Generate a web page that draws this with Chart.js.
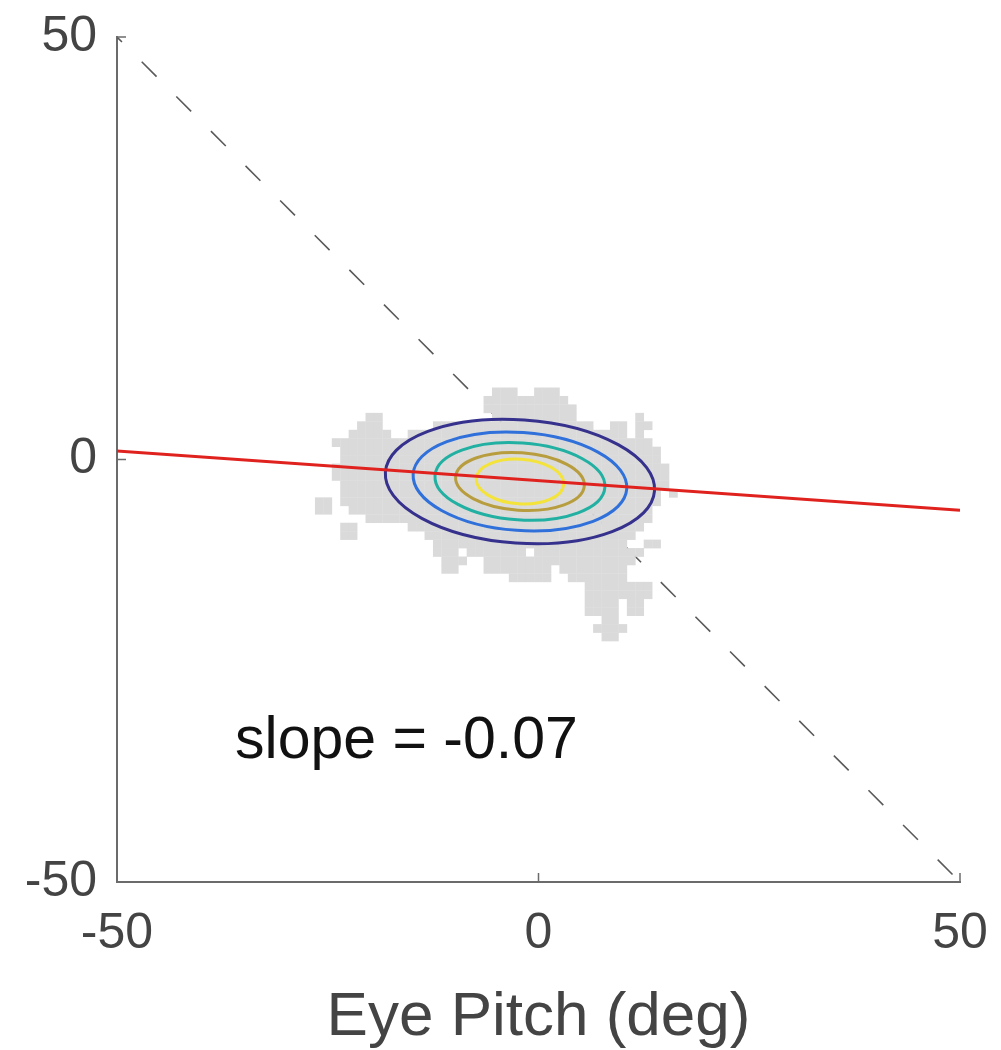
<!DOCTYPE html>
<html lang="en">
  <head>
    <meta charset="UTF-8" />
    <title>Eye Pitch</title>
    <style>
      * {
        margin: 0;
        padding: 0;
      }
      body {
        background: white;
      }
      .chartBox {
        width: 1001px;
        height: 1050px;
      }
    </style>
  </head>
  <body>
    <div class="chartBox">
      <canvas id="myChart"></canvas>
    </div>

    <script src="https://cdn.jsdelivr.net/npm/chart.js"></script>
    <script>
      // axis ticks
      const xTicks = [-50, 0, 50];
      const yTicks = [-50, 0, 50];

      // identity (unity) reference line
      const unityX = [-50, 50];
      const unityY = [50, -50];

      // fitted regression line, slope -0.07
      const fitX = [-50, 50];
      const fitY = [1.0, -6.0];
      const slopeText = "slope = -0.07";

      // occupied 1-deg bins of the data cloud: y row -> [xStart, xEnd] spans
      const cloudRowY = [8, 7, 6, 5, 4, 3, 2, 1, 0, -1, -2, -3, -4, -5, -6, -7, -8, -9,
        -10, -11, -12, -13, -14, -15, -16, -17, -18, -19, -20, -21];
      const cloudRowSpans = [
        [[-5, -3], [0, 2]],
        [[-6, 3]],
        [[-6, 4]],
        [[-20, -19], [-5, 4], [12, 12]],
        [[-21, -19], [-12, 6], [9, 10], [12, 13]],
        [[-22, -18], [-15, 10], [12, 12]],
        [[-24, 13]],
        [[-23, 14]],
        [[-23, 14]],
        [[-24, 15]],
        [[-24, 15]],
        [[-23, 15]],
        [[-23, 14], [16, 16]],
        [[-26, -25], [-23, 14]],
        [[-26, -25], [-22, 13]],
        [[-20, 13]],
        [[-23, -22], [-15, 12]],
        [[-23, -22], [-13, 11]],
        [[-12, 10], [13, 14]],
        [[-12, -10], [-8, -2], [0, 12]],
        [[-11, -9], [-6, 11]],
        [[-11, -10], [-6, 1], [3, 10]],
        [[-3, 1], [4, 10]],
        [[6, 10], [11, 13]],
        [[6, 10], [11, 13]],
        [[6, 9], [11, 12]],
        [[6, 9], [11, 12]],
        [[8, 9]],
        [[7, 10]],
        [[8, 9]],
      ];

      // density contours (centre, semi-axes in deg, tilt in deg)
      const contourCx = [-2.2, -2.2, -2.2, -2.2, -2.2];
      const contourCy = [-2.6, -2.6, -2.6, -2.6, -2.6];
      const contourRx = [16.0, 12.7, 10.1, 7.65, 5.2];
      const contourRy = [7.3, 5.8, 4.55, 3.4, 2.65];
      const contourTilt = [4, 4, 4, 4, 4];
      const contourColors = ["#35318c", "#3070da", "#22b0a2", "#b89d3e", "#f3e33a"];

      const cloudPoints = [];
      cloudRowY.forEach((y, i) => {
        cloudRowSpans[i].forEach((span) => {
          for (let x = span[0]; x <= span[1]; x++) {
            cloudPoints.push({ x: x, y: y });
          }
        });
      });

      const toPoints = (xs, ys) => xs.map((x, i) => ({ x: x, y: ys[i] }));

      const fontFamily = "'Liberation Sans', Arial, sans-serif";
      const axisColor = "#6b6b6b";
      const textColor = "#444444";

      const noOverflow = (s) => {
        s.paddingTop = 0;
        s.paddingBottom = 0;
        s.paddingLeft = 0;
        s.paddingRight = 0;
      };

      const contourPlugin = {
        id: "contours",
        afterDatasetDraw(chart, args) {
          if (args.index !== 1) return;
          const { ctx, scales } = chart;
          const ppx = Math.abs(scales.x.getPixelForValue(1) - scales.x.getPixelForValue(0));
          const ppy = Math.abs(scales.y.getPixelForValue(1) - scales.y.getPixelForValue(0));
          ctx.save();
          ctx.lineWidth = 3;
          contourRx.forEach((rx, i) => {
            ctx.beginPath();
            ctx.strokeStyle = contourColors[i];
            ctx.ellipse(
              scales.x.getPixelForValue(contourCx[i]),
              scales.y.getPixelForValue(contourCy[i]),
              rx * ppx,
              contourRy[i] * ppy,
              (contourTilt[i] * Math.PI) / 180,
              0,
              Math.PI * 2
            );
            ctx.stroke();
          });
          ctx.restore();
        },
      };

      const extrasPlugin = {
        id: "extras",
        afterDraw(chart) {
          const { ctx, scales, chartArea } = chart;
          ctx.save();
          // inward tick marks
          ctx.strokeStyle = axisColor;
          ctx.lineWidth = 1.5;
          xTicks.forEach((v) => {
            const px = scales.x.getPixelForValue(v);
            ctx.beginPath();
            ctx.moveTo(px, chartArea.bottom);
            ctx.lineTo(px, chartArea.bottom - 9);
            ctx.stroke();
          });
          yTicks.forEach((v) => {
            const py = scales.y.getPixelForValue(v);
            ctx.beginPath();
            ctx.moveTo(chartArea.left, py);
            ctx.lineTo(chartArea.left + 9, py);
            ctx.stroke();
          });
          // slope annotation
          ctx.fillStyle = "#111111";
          ctx.font = "59px " + fontFamily;
          ctx.textAlign = "left";
          ctx.textBaseline = "middle";
          ctx.fillText(slopeText, scales.x.getPixelForValue(-36), scales.y.getPixelForValue(-33.4));
          ctx.restore();
        },
      };

      const ctx = document.getElementById("myChart");
      const myChart = new Chart(ctx, {
        type: "scatter",
        data: {
          datasets: [
            {
              label: "unity",
              data: toPoints(unityX, unityY),
              showLine: true,
              pointRadius: 0,
              borderColor: "#5a5a5a",
              borderWidth: 1.6,
              borderDash: [21, 28],
              borderDashOffset: 14,
              order: 3,
            },
            {
              label: "data",
              data: cloudPoints,
              pointStyle: "rect",
              pointRadius: 6.2,
              borderWidth: 0,
              backgroundColor: "#dadada",
              borderColor: "#dadada",
              order: 2,
            },
            {
              label: "fit",
              data: toPoints(fitX, fitY),
              showLine: true,
              pointRadius: 0,
              borderColor: "#e0221f",
              borderWidth: 3,
              order: 0,
            },
          ],
        },
        options: {
          responsive: true,
          maintainAspectRatio: false,
          animation: false,
          layout: {
            padding: { top: 37, right: 41, left: 0, bottom: 0 },
          },
          plugins: {
            legend: { display: false },
            tooltip: { enabled: false },
          },
          scales: {
            x: {
              type: "linear",
              min: -50,
              max: 50,
              afterFit: (s) => {
                s.height = 168;
                noOverflow(s);
              },
              afterBuildTicks: (s) => {
                s.ticks = xTicks.map((v) => ({ value: v }));
              },
              grid: { display: false, drawTicks: false },
              border: { display: true, color: axisColor, width: 2 },
              ticks: {
                color: textColor,
                padding: 22,
                maxRotation: 0,
                font: { family: fontFamily, size: 50 },
              },
              title: {
                display: true,
                text: "Eye Pitch (deg)",
                color: textColor,
                padding: { top: 0, bottom: -5 },
                font: { family: fontFamily, size: 62 },
              },
            },
            y: {
              type: "linear",
              min: -50,
              max: 50,
              afterFit: (s) => {
                s.width = 117;
                noOverflow(s);
              },
              afterBuildTicks: (s) => {
                s.ticks = yTicks.map((v) => ({ value: v }));
              },
              grid: { display: false, drawTicks: false },
              border: { display: true, color: axisColor, width: 2 },
              ticks: {
                color: textColor,
                padding: 20,
                font: { family: fontFamily, size: 50 },
              },
            },
          },
        },
        plugins: [contourPlugin, extrasPlugin],
      });
    </script>
  </body>
</html>
